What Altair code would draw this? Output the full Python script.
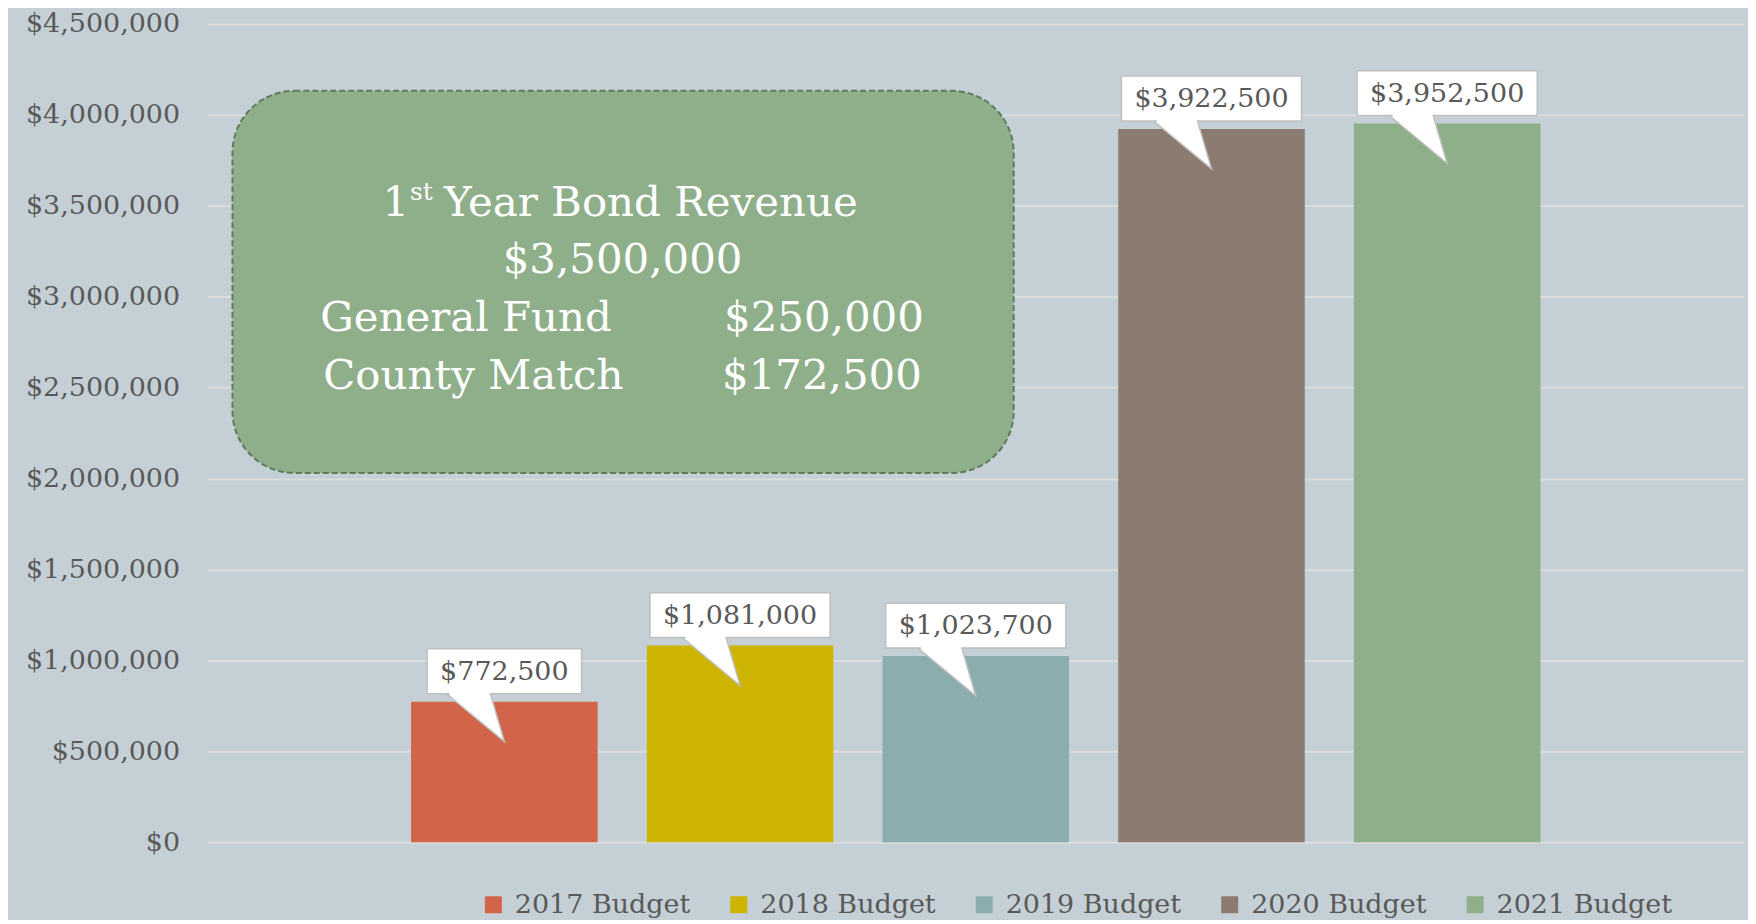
import altair as alt
import pandas as pd

# ---- data ----
years = ["2017 Budget", "2018 Budget", "2019 Budget", "2020 Budget", "2021 Budget"]
values = [772500, 1081000, 1023700, 3922500, 3952500]
colors = ["#D2644A", "#CCB400", "#8BADAE", "#8C7B70", "#8FAF8B"]
y_ticks = [0, 500000, 1000000, 1500000, 2000000, 2500000, 3000000, 3500000, 4000000, 4500000]

box_title_num = "1"
box_title_sup = "st"
box_title_rest = "Year Bond Revenue"
box_total = "$3,500,000"
box_rows = ["General Fund", "County Match"]
box_row_values = ["$250,000", "$172,500"]

FONT = "DejaVu Serif"
TXT = "#595959"
BG = "#C5D0D6"
LABEL_FS = 27
DY = -3  # plot top shifted 3px lower than the reference gridline

def fmt(v):
    return "${:,.0f}".format(v)

glyph = {"$": 0.636, ",": 0.318}
def text_w(s, fs):
    return sum(glyph.get(c, 0.636) for c in s) * fs

df = pd.DataFrame({"year": years, "value": values})
df["label"] = [fmt(v) for v in values]
df["bw"] = [text_w(l, LABEL_FS) + 26 for l in df["label"]]

xenc = alt.X("year:N", sort=years, axis=None,
             scale=alt.Scale(paddingInner=0.2085, paddingOuter=0.8635))
yenc = alt.Y("value:Q",
             scale=alt.Scale(domain=[0, 4500000], nice=False, zero=True),
             axis=alt.Axis(values=y_ticks, format="$,.0f", title=None,
                           labelFont=FONT, labelFontSize=27, labelColor=TXT,
                           labelPadding=28, domain=False, ticks=False,
                           gridColor="#DADCDE", gridWidth=2))

base = alt.Chart(df)

bars = base.mark_bar().encode(
    x=xenc, y=yenc,
    color=alt.Color("year:N", sort=years,
                    scale=alt.Scale(domain=years, range=colors),
                    legend=alt.Legend(orient="none", legendX=273, legendY=869,
                                      direction="horizontal", title=None,
                                      symbolType="square", symbolSize=289,
                                      symbolStrokeWidth=0, symbolOffset=0,
                                      labelFont=FONT, labelFontSize=LABEL_FS,
                                      labelColor=TXT, labelOffset=8,
                                      labelLimit=400, columnPadding=35,
                                      padding=0)),
)

tri_path = "M -1.16 -0.16 L -0.28 -0.16 L 0 0.8 Z"
cover_path = "M -1.1 -0.22 L -0.3 -0.22 L -0.286 -0.12 L -1.09 -0.12 Z"

pointer = base.mark_point(shape=tri_path, size=10000, filled=True,
                          fill="white", stroke="#BFBFBF", strokeWidth=1.5,
                          opacity=1, fillOpacity=1).encode(
    x=xenc, y=alt.Y("value:Q"))

box = base.mark_bar(fill="white", stroke="#BFBFBF", strokeWidth=1.5,
                    yOffset=-53, y2Offset=-8).encode(
    x=xenc, y=alt.Y("value:Q"), y2=alt.Y2("value"),
    size=alt.Size("bw:Q", scale=None, legend=None))

cover = base.mark_point(shape=cover_path, size=10000, filled=True,
                        fill="white", strokeWidth=0,
                        opacity=1, fillOpacity=1).encode(
    x=xenc, y=alt.Y("value:Q"))

labels = base.mark_text(font=FONT, fontSize=LABEL_FS, color=TXT,
                        baseline="middle", align="center", yOffset=-30).encode(
    x=xenc, y=alt.Y("value:Q"), text="label:N")

# ---- annotation box ----
one = pd.DataFrame({"k": [0]})
ann = alt.Chart(one)
ann_rect = ann.mark_rect(fill="#8FAF8B", stroke="#5F7B5C", strokeWidth=2,
                         strokeDash=[6, 3], cornerRadius=62).encode(
    x=alt.value(25), x2=alt.value(808), y=alt.value(70 + DY), y2=alt.value(453 + DY))

def t(txt, x, y, align, fs=42):
    return ann.mark_text(text=txt, font=FONT, fontSize=fs, color="white",
                         align=align, baseline="alphabetic").encode(
        x=alt.value(x), y=alt.value(y + DY))

ann_texts = [
    t(box_title_num, 202, 195, "right"),
    t(box_title_sup, 203, 179, "left", fs=25),
    t(box_title_rest, 237, 195, "left"),
    t(box_total, 416, 253, "center"),
    t(box_rows[0], 113, 311, "left"),
    t(box_row_values[0], 718, 311, "right"),
    t(box_rows[1], 116, 369, "left"),
    t(box_row_values[1], 716, 369, "right"),
]

chart = alt.layer(bars, pointer, box, cover, labels, ann_rect, *ann_texts).properties(
    width=1540, height=820,
    autosize=alt.AutoSizeParams(type="none"),
    padding={"left": 200, "top": 15, "right": 4, "bottom": 77},
).configure(background=BG).configure_view(stroke=None)

chart.save("out.html", embed_options={"renderer": "svg", "actions": False})
